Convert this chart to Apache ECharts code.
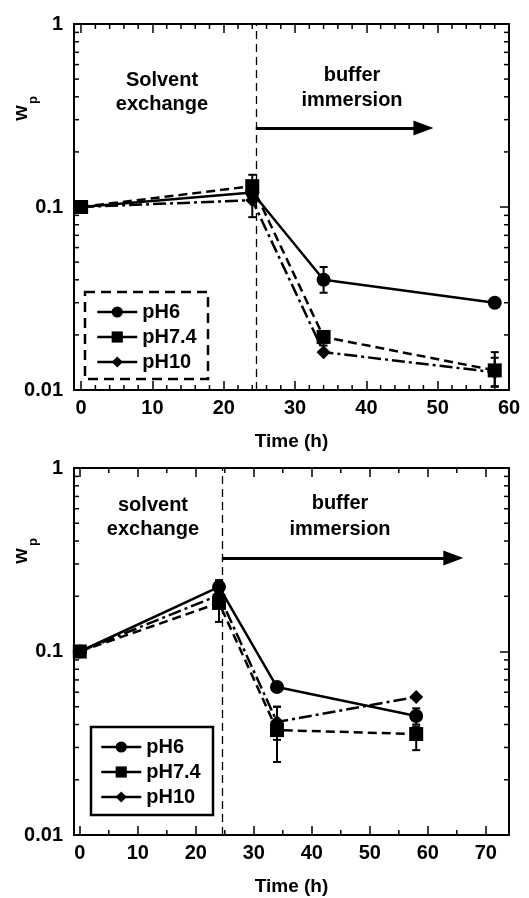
<!DOCTYPE html>
<html>
<head>
<meta charset="utf-8">
<script src="https://cdn.jsdelivr.net/npm/echarts@6/dist/echarts.min.js"></script>
<style>
html,body{margin:0;padding:0;background:#fff;}
#chart{width:529px;height:898px;}
</style>
</head>
<body>
<div id="chart"></div>
<script>
// ---------- data ----------
const time = [0, 24, 34, 58];
const seriesNames = ['pH6', 'pH7.4', 'pH10'];

// top panel
const topPH6  = [0.1, 0.12, 0.040, 0.030];
const topPH74 = [0.1, 0.13, 0.0195, 0.0128];
const topPH10 = [0.1, 0.109, 0.0161, 0.0125];
// error bars top: x, low, high
const topErrX    = [24, 24, 34, 34, 58, 58, 58];
const topErrLow  = [0.110, 0.088, 0.034, 0.0175, 0.0104, 0.0105, 0.0285];
const topErrHigh = [0.150, 0.125, 0.047, 0.021, 0.0161, 0.0150, 0.0315];

// bottom panel
const botPH6  = [0.1, 0.225, 0.064, 0.0445];
const botPH74 = [0.1, 0.184, 0.0373, 0.0355];
const botPH10 = [0.1, 0.203, 0.0413, 0.0565];
const botErrX    = [24, 24, 34, 34, 58, 58];
const botErrLow  = [0.145, 0.20, 0.025, 0.033, 0.029, 0.040];
const botErrHigh = [0.210, 0.245, 0.050, 0.050, 0.039, 0.049];

// axis ornaments
const yTickLabels = {0.01: '0.01', 0.1: '0.1', 1: '1'};
const logMinor = [0.02,0.03,0.04,0.05,0.06,0.07,0.08,0.09,0.2,0.3,0.4,0.5,0.6,0.7,0.8,0.9];
const topMajorX = [0, 10, 20, 30, 40, 50, 60];
const botMajorX = [0, 10, 20, 30, 40, 50, 60, 70];
const topMinorX = [2,4,6,8,12,14,16,18,22,24,26,28,32,34,36,38,42,44,46,48,52,54,56,58];
const botMinorX = [5,15,25,35,45,55,65];

const topX = {min: -1, max: 60, major: topMajorX};
const botX = {min: -1, max: 74, major: botMajorX};
const phaseBoundary = 24.5;

// ---------- helpers ----------
const FONT = 'Liberation Sans';
const black = '#000';
const zip = (xs, ys) => xs.map((x, i) => [x, ys[i]]);

function xAxisPair(gi, cfg) {
  const base = {
    gridIndex: gi, type: 'value', min: cfg.min, max: cfg.max,
    axisLine: {show: true, onZero: false, lineStyle: {color: black, width: 2}},
    axisTick: {show: true, inside: true, length: 9, customValues: cfg.major, lineStyle: {color: black, width: 1.5}},
    splitLine: {show: false}
  };
  return [
    Object.assign({}, base, {
      position: 'bottom',
      axisLabel: {show: true, color: black, fontFamily: FONT, fontWeight: 'bold', fontSize: 20, margin: 8,
        customValues: cfg.major, formatter: v => String(v)},
      name: 'Time (h)', nameLocation: 'middle', nameGap: 42,
      nameTextStyle: {color: black, fontFamily: FONT, fontWeight: 'bold', fontSize: 19}
    }),
    Object.assign({}, base, {position: 'top', axisLabel: {show: false}})
  ];
}
function yAxisPair(gi) {
  const base = {
    gridIndex: gi, type: 'log', logBase: 10, min: 0.01, max: 1,
    axisLine: {show: true, onZero: false, lineStyle: {color: black, width: 2}},
    axisTick: {show: true, inside: true, length: 9, lineStyle: {color: black, width: 1.5}},
    splitLine: {show: false}, minorTick: {show: false}
  };
  return [
    Object.assign({}, base, {
      position: 'left',
      axisLabel: {show: true, color: black, fontFamily: FONT, fontWeight: 'bold', fontSize: 20, margin: 11,
        formatter: v => yTickLabels[Math.round(v * 100) / 100] || ''}
    }),
    Object.assign({}, base, {position: 'right', axisLabel: {show: false}})
  ];
}

function lineSeries(name, xi, yi, xs, ys) {
  const styles = {
    'pH6':   {symbol: 'circle',  size: 14, type: 'solid'},
    'pH7.4': {symbol: 'rect',    size: 14, type: [9, 5]},
    'pH10':  {symbol: 'diamond', size: 14, type: [13, 4, 3, 4]}
  };
  const s = styles[name];
  return {
    name, type: 'line', xAxisIndex: xi, yAxisIndex: yi, data: zip(xs, ys),
    symbol: s.symbol, symbolSize: s.size, showSymbol: true, animation: false,
    lineStyle: {color: black, width: 2.5, type: s.type},
    itemStyle: {color: black}, z: 4
  };
}

function errorSeries(xi, yi, xs, lows, highs) {
  return {
    type: 'custom', xAxisIndex: xi, yAxisIndex: yi, animation: false, z: 3, silent: true,
    data: xs.map((x, i) => [x, lows[i], highs[i]]),
    renderItem: (params, api) => {
      const x = api.value(0);
      const lo = api.coord([x, api.value(1)]);
      const hi = api.coord([x, api.value(2)]);
      const w = 4;
      const st = {stroke: black, lineWidth: 2};
      return {type: 'group', children: [
        {type: 'line', shape: {x1: lo[0], y1: lo[1], x2: hi[0], y2: hi[1]}, style: st},
        {type: 'line', shape: {x1: lo[0] - w, y1: lo[1], x2: lo[0] + w, y2: lo[1]}, style: st},
        {type: 'line', shape: {x1: hi[0] - w, y1: hi[1], x2: hi[0] + w, y2: hi[1]}, style: st}
      ]};
    }
  };
}

function minorTickSeries(xi, yi, xVals, yVals) {
  const data = xVals.map(v => [v, 0.1, 0]).concat(yVals.map(v => [0, v, 1]));
  return {
    type: 'custom', xAxisIndex: xi, yAxisIndex: yi, animation: false, silent: true, clip: false, z: 2,
    data,
    renderItem: (params, api) => {
      const cs = params.coordSys;
      const p = api.coord([api.value(0), api.value(1)]);
      const L = 5;
      const st = {stroke: black, lineWidth: 1.5};
      if (api.value(2) === 0) {
        return {type: 'group', children: [
          {type: 'line', shape: {x1: p[0], y1: cs.y + cs.height, x2: p[0], y2: cs.y + cs.height - L}, style: st},
          {type: 'line', shape: {x1: p[0], y1: cs.y, x2: p[0], y2: cs.y + L}, style: st}
        ]};
      }
      return {type: 'group', children: [
        {type: 'line', shape: {x1: cs.x, y1: p[1], x2: cs.x + L, y2: p[1]}, style: st},
        {type: 'line', shape: {x1: cs.x + cs.width, y1: p[1], x2: cs.x + cs.width - L, y2: p[1]}, style: st}
      ]};
    }
  };
}

function annotationLines(arrowY, arrowEndX) {
  return {
    silent: true, animation: false, label: {show: false},
    symbol: ['none', 'none'],
    lineStyle: {color: black, width: 1.3, type: [8, 5]},
    data: [
      {xAxis: phaseBoundary},
      [
        {coord: [phaseBoundary, arrowY], symbol: 'none', lineStyle: {type: 'solid', width: 3, color: black}},
        {coord: [arrowEndX, arrowY], symbol: 'triangle', symbolSize: [15, 20],
         lineStyle: {type: 'solid', width: 3, color: black}}
      ]
    ]
  };
}

const top6 = lineSeries('pH6', 0, 0, time, topPH6);
top6.markLine = annotationLines(0.27, 48);
const bot6 = lineSeries('pH6', 2, 2, time, botPH6);
bot6.markLine = annotationLines(0.323, 64.4);

const txt = (text, x, y, size, extra) => Object.assign({
  type: 'text', x, y, silent: true,
  style: {text, fill: black, font: 'bold ' + (size || 20) + 'px "' + FONT + '"', textAlign: 'center', textVerticalAlign: 'middle'}
}, extra || {});

const legendCommon = {
  data: seriesNames, orient: 'vertical', itemWidth: 40, itemHeight: 14, itemGap: 5,
  textStyle: {color: black, fontFamily: FONT, fontWeight: 'bold', fontSize: 20},
  lineStyle: {type: 'solid', width: 2.5}, selectedMode: false, padding: 0, z: 10
};

const option = {
  animation: false,
  backgroundColor: '#fff',
  grid: [
    {left: 74, top: 24, width: 435, height: 366},
    {left: 74, top: 468, width: 435, height: 367}
  ],
  xAxis: xAxisPair(0, topX).concat(xAxisPair(1, botX)),
  yAxis: yAxisPair(0).concat(yAxisPair(1)),
  legend: [
    Object.assign({left: 96, top: 302}, legendCommon),
    Object.assign({left: 100, top: 737}, legendCommon)
  ],
  graphic: [
    {type: 'rect', silent: true, shape: {x: 85, y: 292, width: 123, height: 87},
     style: {fill: 'none', stroke: black, lineWidth: 2.5, lineDash: [10, 6]}},
    {type: 'rect', silent: true, shape: {x: 91, y: 727, width: 122, height: 88},
     style: {fill: 'none', stroke: black, lineWidth: 2.5}},
    txt('Solvent', 162, 80), txt('exchange', 162, 104),
    txt('buffer', 352, 75), txt('immersion', 352, 100),
    txt('solvent', 153, 505), txt('exchange', 153, 529),
    txt('buffer', 340, 503), txt('immersion', 340, 529),
    txt('w', 21, 113, 20, {rotation: Math.PI / 2}),
    txt('p', 33, 100, 13, {rotation: Math.PI / 2}),
    txt('w', 21, 556, 20, {rotation: Math.PI / 2}),
    txt('p', 33, 542, 13, {rotation: Math.PI / 2})
  ],
  series: [
    minorTickSeries(0, 0, topMinorX, logMinor),
    minorTickSeries(2, 2, botMinorX, logMinor),
    errorSeries(0, 0, topErrX, topErrLow, topErrHigh),
    errorSeries(2, 2, botErrX, botErrLow, botErrHigh),
    top6,
    lineSeries('pH7.4', 0, 0, time, topPH74),
    lineSeries('pH10', 0, 0, time, topPH10),
    bot6,
    lineSeries('pH7.4', 2, 2, time, botPH74),
    lineSeries('pH10', 2, 2, time, botPH10)
  ]
};

const chart = echarts.init(document.getElementById('chart'), null, {renderer: 'canvas'});
chart.setOption(option);
</script>
</body>
</html>
